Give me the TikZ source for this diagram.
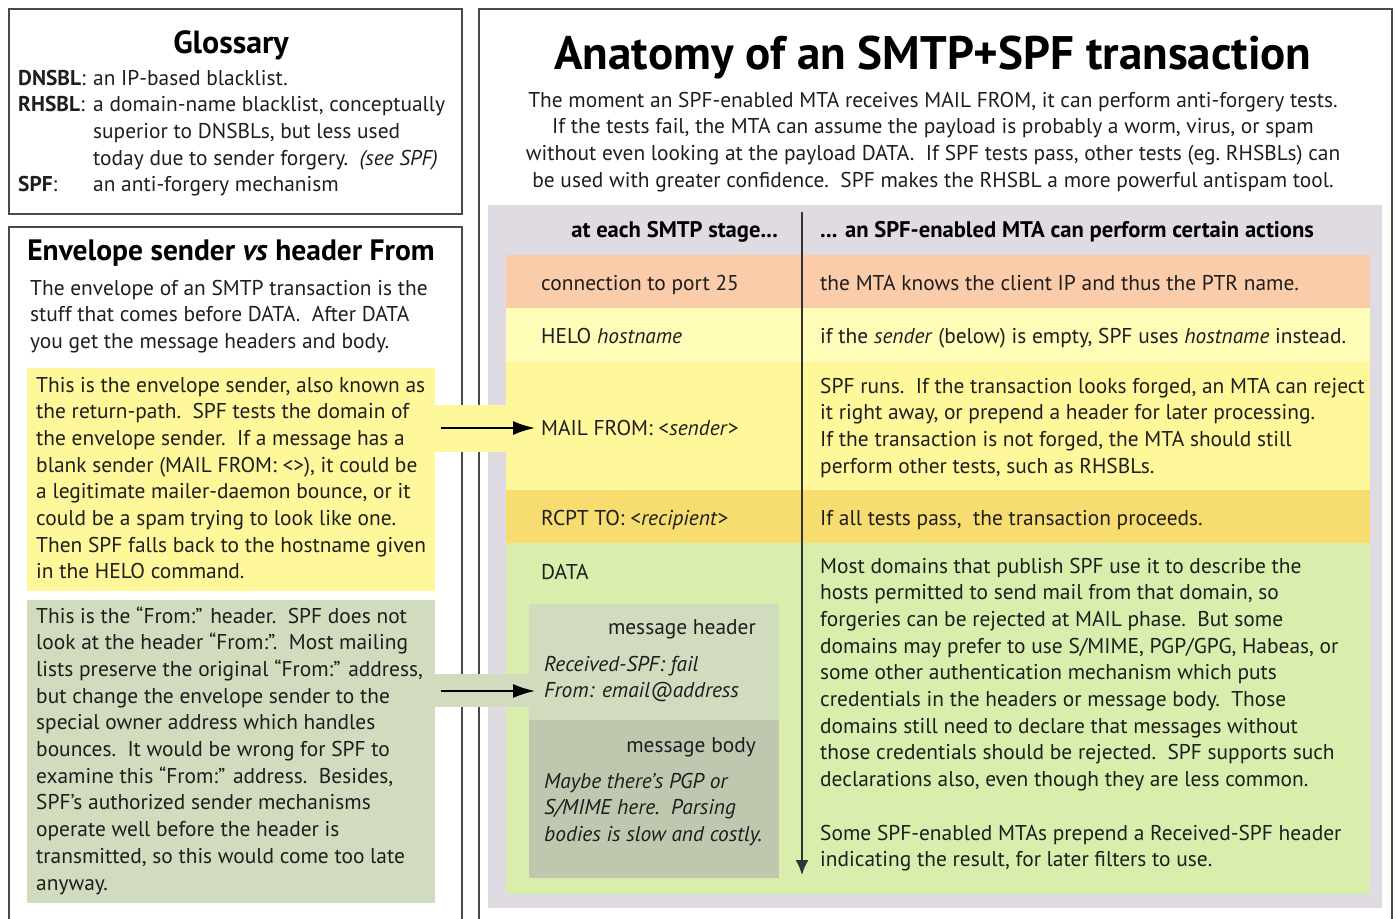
\documentclass[tikz,border=0pt]{standalone}
\usepackage{fontspec}
\setmainfont{PT Sans}
\usetikzlibrary{positioning,arrows.meta}

\definecolor{framegray}{HTML}{4A4A4A}
\definecolor{ink}{HTML}{1E1E1E}
\definecolor{lavender}{HTML}{E0DAE3}
\definecolor{salmon}{HTML}{FBCCA9}
\definecolor{paleyel}{HTML}{FFFDB7}
\definecolor{yel}{HTML}{FFF89A}
\definecolor{gold}{HTML}{F7DD6F}
\definecolor{leaf}{HTML}{D9EEAC}
\definecolor{sage}{HTML}{D1DBBE}
\definecolor{darksage}{HTML}{BFC7AE}

\newcommand\bodyfont{\fontsize{21.4}{26.7}\selectfont}
\newcommand\boldfont{\fontsize{22.6}{26.7}\selectfont\bfseries}

% multi-line nodes sit on the baseline of their last line
\begin{document}
\begin{tikzpicture}[x=1pt,y=-1pt,
    frame/.style={draw=framegray,line width=1.5pt,anchor=north west,inner sep=0pt},
    block/.style={anchor=north west,inner sep=0pt,outer sep=0pt,draw=none},
    stagerow/.style={block,minimum width=864pt},
    txt/.style={anchor=base west,inner sep=0pt,align=left,font=\bodyfont,text=ink},
    headtxt/.style={anchor=base,inner sep=0pt,text=black},
    flow/.style={-{Latex[length=22pt,width=14pt]},line width=2pt,black}]
    \useasboundingbox (0,0) rectangle (1396,918);

    % frames
    \node[frame,minimum width=453pt,minimum height=205pt] (glossbox) at (8,8) {};
    \node[frame,minimum width=453pt,minimum height=705pt] (envbox) at (8,226) {};
    \node[frame,minimum width=913pt,minimum height=922pt] (smtpbox) at (478,8) {};

    % table of stages
    \node[block,fill=lavender,minimum width=894pt,minimum height=703pt] (table) at (488,205) {};
    \node[stagerow,fill=salmon,minimum height=53pt] (rconn) at (506,255) {};
    \node[stagerow,fill=paleyel,minimum height=54pt,below=0pt of rconn.south west,anchor=north west] (rhelo) {};
    \node[stagerow,fill=yel,minimum height=128pt,below=0pt of rhelo.south west,anchor=north west] (rmail) {};
    \node[stagerow,fill=gold,minimum height=53pt,below=0pt of rmail.south west,anchor=north west] (rrcpt) {};
    \node[stagerow,fill=leaf,minimum height=351pt,below=0pt of rrcpt.south west,anchor=north west] (rdata) {};
    \node[block,fill=sage,minimum width=250pt,minimum height=116pt] (msghead) at (529,604) {};
    \node[block,fill=darksage,minimum width=250pt,minimum height=158pt,below=0pt of msghead.south west,anchor=north west] (msgbody) {};

    % envelope notes
    \node[block,fill=yel,minimum width=408pt,minimum height=223pt] (envnote) at (27,368) {};
    \node[block,fill=sage,minimum width=408pt,minimum height=303pt] (fromnote) at (27,600) {};
    \fill[yel] (435,405) rectangle (506,452);
    \fill[sage] (435,674) rectangle (529,707);

    % glossary
    \node[headtxt,font=\fontsize{32}{36}\selectfont\bfseries] (glosstitle) at (231,53) {Glossary};
    \node[txt] (tdnsbl) at (18,85) {\textbf{DNSBL}:};
    \node[txt] (trhsbl) at (18,111.7) {\textbf{RHSBL}:};
    \node[txt] (tspf) at (18,191.7) {\textbf{SPF}:};
    \node[txt] (ddnsbl) at (93,85) {an IP-based blacklist.};
    \node[txt] (drhsbl) at (93,165) {a domain-name blacklist, conceptually\\superior to DNSBLs, but less used\\today due to sender forgery.\ \ \textit{(see SPF)}};
    \node[txt] (dspf) at (93,191.7) {an anti-forgery mechanism};

    % envelope sender vs header from
    \node[headtxt,font=\fontsize{29.5}{34}\selectfont\bfseries] (envtitle) at (231,260) {Envelope sender \textit{vs} header From};
    \node[txt] (envintro) at (30,348.4) {The envelope of an SMTP transaction is the\\stuff that comes before DATA.\ \ After DATA\\you get the message headers and body.};
    \node[txt] (envtext) at (36,578.9) {This is the envelope sender, also known as\\the return-path.\ \ SPF tests the domain of\\the envelope sender.\ \ If a message has a\\blank sender (MAIL FROM: <>), it could be\\a legitimate mailer-daemon bounce, or it\\could be a spam trying to look like one.\\Then SPF falls back to the hostname given\\in the HELO command.};
    \node[txt] (fromtext) at (36,890) {This is the “From:” header.\ \ SPF does not\\look at the header “From:”.\ \ Most mailing\\lists preserve the original “From:” address,\\but change the envelope sender to the\\special owner address which handles\\bounces.\ \ It would be wrong for SPF to\\examine this “From:” address.\ \ Besides,\\SPF’s authorized sender mechanisms\\operate well before the header is\\transmitted, so this would come too late\\anyway.};

    % anatomy
    \node[headtxt,font=\fontsize{47}{52}\selectfont\bfseries] (maintitle) at (933,69) {Anatomy of an SMTP+SPF transaction};
    \node[txt,anchor=base,align=center] (mainintro) at (933,187.1) {The moment an SPF-enabled MTA receives MAIL FROM, it can perform anti-forgery tests.\\If the tests fail, the MTA can assume the payload is probably a worm, virus, or spam\\without even looking at the payload DATA.\ \ If SPF tests pass, other tests (eg.\ RHSBLs) can\\be used with greater confidence.\ \ SPF makes the RHSBL a more powerful antispam tool.};

    \node[txt,anchor=base east,font=\boldfont,text=black] (hstage) at (778,237) {at each SMTP stage...};
    \node[txt,font=\boldfont,text=black] (haction) at (820,237) {... an SPF-enabled MTA can perform certain actions};

    \node[txt] (sconn) at (541,290) {connection to port 25};
    \node[txt] (shelo) at (541,343) {HELO \textit{hostname}};
    \node[txt] (smail) at (541,435) {MAIL FROM: <\textit{sender}>};
    \node[txt] (srcpt) at (541,525) {RCPT TO: <\textit{recipient}>};
    \node[txt] (sdata) at (541,579) {DATA};

    \node[txt] (aconn) at (820,290) {the MTA knows the client IP and thus the PTR name.};
    \node[txt] (ahelo) at (820,343) {if the \textit{sender} (below) is empty, SPF uses \textit{hostname} instead.};
    \node[txt] (amail) at (820,473.1) {SPF runs.\ \ If the transaction looks forged, an MTA can reject\\it right away, or prepend a header for later processing.\\If the transaction is not forged, the MTA should still\\perform other tests, such as RHSBLs.};
    \node[txt] (arcpt) at (820,525) {If all tests pass,\ \ the transaction proceeds.};
    \node[txt] (adata) at (820,786.6) {Most domains that publish SPF use it to describe the\\hosts permitted to send mail from that domain, so\\forgeries can be rejected at MAIL phase.\ \ But some\\domains may prefer to use S/MIME, PGP/GPG, Habeas, or\\some other authentication mechanism which puts\\credentials in the headers or message body.\ \ Those\\domains still need to declare that messages without\\those credentials should be rejected.\ \ SPF supports such\\declarations also, even though they are less common.};
    \node[txt] (arcvd) at (820,866.7) {Some SPF-enabled MTAs prepend a Received-SPF header\\indicating the result, for later filters to use.};

    \node[txt,anchor=base east] (lhead) at (756,634) {message header};
    \node[txt,font=\bodyfont\itshape] (lheadtxt) at (544,697.7) {Received-SPF: fail\\From: email@address};
    \node[txt,anchor=base east] (lbody) at (756,752) {message body};
    \node[txt,font=\bodyfont\itshape] (lbodytxt) at (544,841.4) {Maybe there’s PGP or\\S/MIME here.\ \ Parsing\\bodies is slow and costly.};

    % arrows
    \coordinate (axtop) at (802,212);
    \coordinate (axend) at (802,875);
    \draw[-{Latex[length=15pt,width=13pt]},line width=2pt,black!80] (axtop) -- (axend);
    \coordinate (envtab) at (441,428);
    \coordinate (fromtab) at (441,691);
    \draw[flow,shorten >=6pt] (envtab) -- (envtab -| smail.west);
    \draw[flow,shorten >=9pt] (fromtab) -- (fromtab -| lheadtxt.west);
\end{tikzpicture}
\end{document}
